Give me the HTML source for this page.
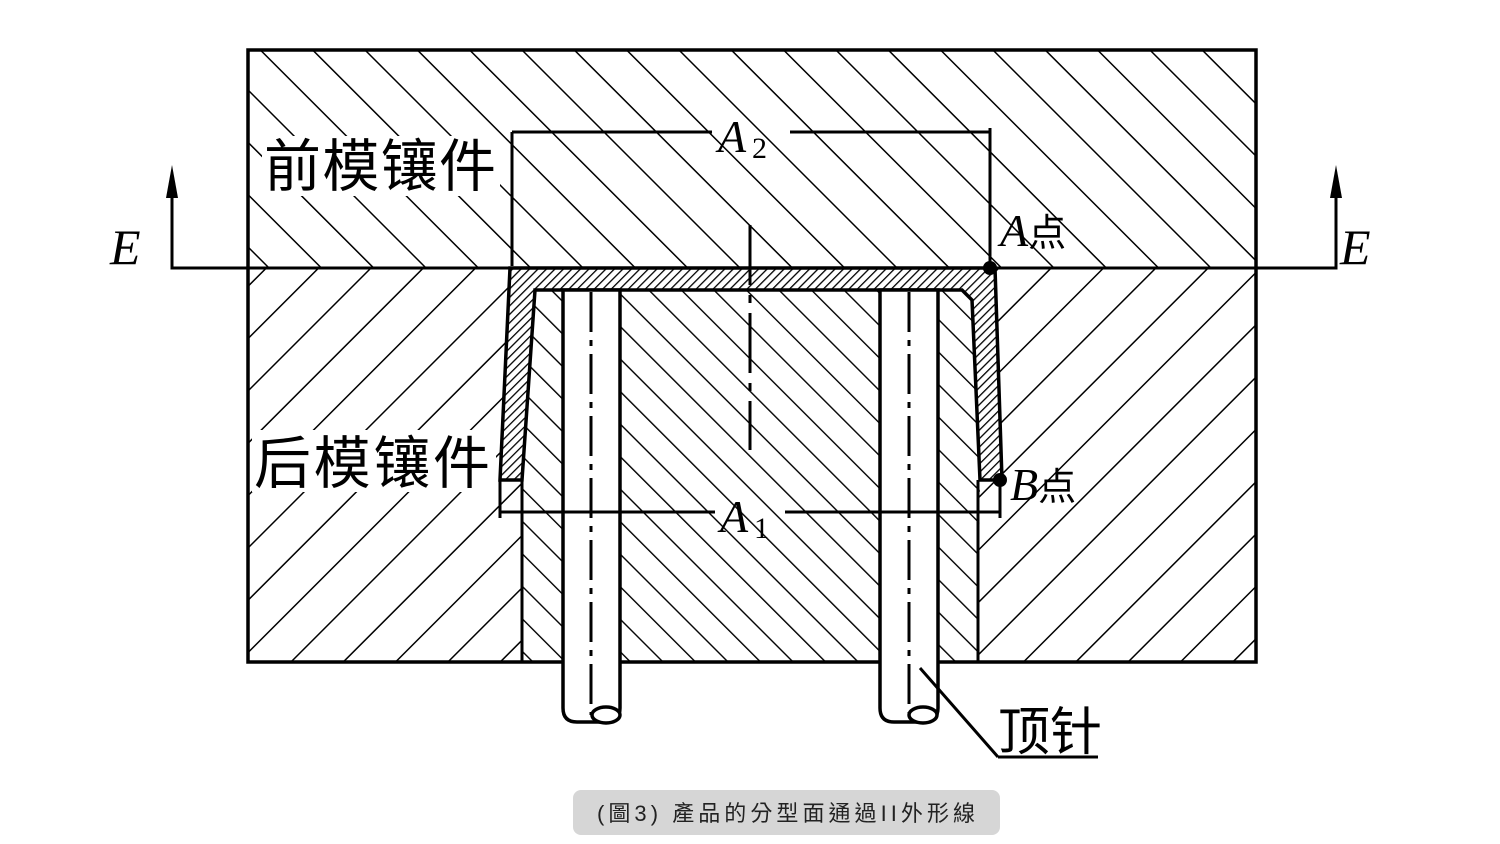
<!DOCTYPE html>
<html><head><meta charset="utf-8"><style>
html,body{margin:0;padding:0;background:#fff;}
svg{display:block}
</style></head><body>
<svg width="1500" height="844" viewBox="0 0 1500 844" xmlns="http://www.w3.org/2000/svg">
<defs>
<pattern id="bs" width="37" height="37" patternUnits="userSpaceOnUse" patternTransform="rotate(-45)"><line x1="0" y1="0" x2="0" y2="37" stroke="#000" stroke-width="3"/></pattern>
<pattern id="fs" width="37" height="37" patternUnits="userSpaceOnUse" patternTransform="translate(10 0) rotate(45)"><line x1="0" y1="0" x2="0" y2="37" stroke="#000" stroke-width="3"/></pattern>
<pattern id="core" width="23" height="23" patternUnits="userSpaceOnUse" patternTransform="rotate(-45)"><line x1="0" y1="0" x2="0" y2="23" stroke="#000" stroke-width="2.8"/></pattern>
<pattern id="shell" width="6" height="6" patternUnits="userSpaceOnUse" patternTransform="rotate(45)"><line x1="0" y1="0" x2="0" y2="6" stroke="#000" stroke-width="2.6"/></pattern>
</defs>
<rect width="1500" height="844" fill="#fff"/>
<rect x="248" y="50" width="1008" height="218" fill="url(#bs)"/>
<polygon points="248,268 510,268 500,480 522,480 522,662 248,662" fill="url(#fs)"/>
<polygon points="995,268 1256,268 1256,662 978,662 978,480 1002,480" fill="url(#fs)"/>
<polygon points="535,290 972,290 980,480 978,662 522,662 522,480" fill="url(#core)"/>
<polygon points="510,268 995,268 1002,480 980,480 972,300 962,290 535,290 522,480 500,480" fill="url(#shell)" stroke="#000" stroke-width="3.5"/>
<rect x="262" y="136" width="238" height="60" fill="#fff"/>
<rect x="252" y="430" width="244" height="62" fill="#fff"/>
<rect x="248" y="50" width="1008" height="612" fill="none" stroke="#000" stroke-width="3.5"/>
<line x1="232" y1="268" x2="1270" y2="268" stroke="#000" stroke-width="3"/>
<line x1="522" y1="480" x2="522" y2="662" stroke="#000" stroke-width="3"/>
<line x1="978" y1="480" x2="978" y2="662" stroke="#000" stroke-width="3"/>
<g stroke="#000" stroke-width="3.5" fill="#fff">
<path d="M563,290 L563,708 Q563,722 577,722 L605,722 Q620,722 620,708 L620,290 Z"/>
<ellipse cx="606" cy="715" rx="14" ry="8"/>
<path d="M880,290 L880,708 Q880,722 894,722 L922,722 Q938,722 938,708 L938,290 Z"/>
<ellipse cx="923" cy="715" rx="14" ry="8"/>
</g>
<line x1="591" y1="292" x2="591" y2="715" stroke="#000" stroke-width="3" stroke-dasharray="40,8,6,8"/>
<line x1="909" y1="292" x2="909" y2="715" stroke="#000" stroke-width="3" stroke-dasharray="40,8,6,8"/>
<line x1="750" y1="225" x2="750" y2="450" stroke="#000" stroke-width="3" stroke-dasharray="60,10,8,10"/>
<g stroke="#000" stroke-width="3" fill="none">
<line x1="512" y1="132" x2="512" y2="266"/>
<line x1="990" y1="128" x2="990" y2="266"/>
<line x1="512" y1="132" x2="712" y2="132"/>
<line x1="790" y1="132" x2="990" y2="132"/>
<line x1="500" y1="480" x2="500" y2="518"/>
<line x1="1000" y1="480" x2="1000" y2="518"/>
<line x1="500" y1="512" x2="715" y2="512"/>
<line x1="785" y1="512" x2="1000" y2="512"/>
<line x1="920" y1="668" x2="998" y2="757"/>
<line x1="998" y1="757" x2="1098" y2="757"/>
<polyline points="172,180 172,268 232,268"/>
<polyline points="1336,180 1336,268 1270,268"/>
</g>
<polygon points="172,165 166,198 178,198" fill="#000"/>
<polygon points="1336,165 1330,198 1342,198" fill="#000"/>
<circle cx="990" cy="268" r="7" fill="#000"/>
<circle cx="1000" cy="480" r="7" fill="#000"/>
<g font-family="Liberation Serif, 'Noto Serif CJK SC', serif" fill="#000">
<text x="264" y="186" font-size="57" textLength="232" font-family="'Noto Sans CJK SC', sans-serif">前模镶件</text>
<text x="254" y="483" font-size="57" textLength="236" font-family="'Noto Sans CJK SC', sans-serif">后模镶件</text>
<text x="998" y="750" font-size="52" font-family="'Noto Sans CJK SC', sans-serif">顶针</text>
<text x="110" y="264" font-size="50" font-style="italic">E</text>
<text x="1340" y="264" font-size="50" font-style="italic">E</text>
<text x="718" y="152" font-size="46" font-style="italic">A</text>
<text x="752" y="158" font-size="30">2</text>
<text x="720" y="532" font-size="46" font-style="italic">A</text>
<text x="754" y="538" font-size="30">1</text>
<text x="1000" y="246" font-size="46" font-style="italic">A<tspan font-style="normal" font-size="38" font-family="'Noto Sans CJK SC', sans-serif">点</tspan></text>
<text x="1010" y="500" font-size="46" font-style="italic">B<tspan font-style="normal" font-size="38" font-family="'Noto Sans CJK SC', sans-serif">点</tspan></text>
</g>
<rect x="573" y="790" width="427" height="45" rx="8" fill="#d6d6d6"/>
<text x="597" y="821" font-size="22" textLength="378" font-family="'Liberation Sans','Noto Sans CJK TC',sans-serif" fill="#222">(圖3) 產品的分型面通過II外形線</text>
</svg>
</body></html>
